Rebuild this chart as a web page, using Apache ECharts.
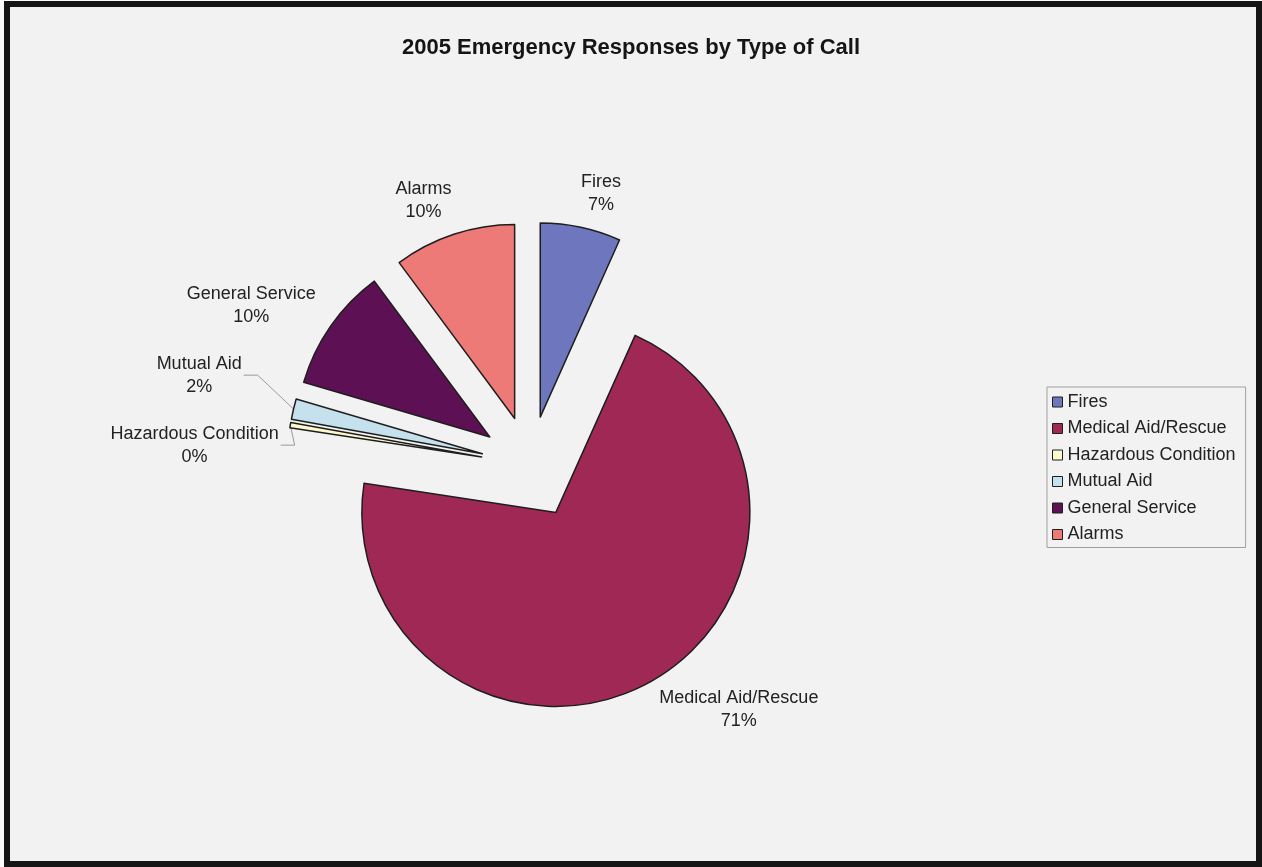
<!DOCTYPE html>
<html>
<head>
<meta charset="utf-8">
<title>2005 Emergency Responses by Type of Call</title>
<script src="https://cdn.jsdelivr.net/npm/echarts@6/dist/echarts.min.js"></script>
<style>
  html, body { margin: 0; padding: 0; background: #fbfbfb; }
  #frame {
    position: absolute; left: 4px; top: 1px; width: 1258px; height: 866px;
    box-sizing: border-box; border: 6px solid #151515; background: #f2f2f2;
  }
  #chart { position: absolute; left: 0; top: 0; width: 1262px; height: 867px; }
</style>
</head>
<body>
<div id="frame"></div>
<div id="chart"></div>
<script>
// share of calls (%), clockwise from 12 o'clock
const callTypes = ['Fires', 'Medical Aid/Rescue', 'Hazardous Condition', 'Mutual Aid', 'General Service', 'Alarms']
const callShares = [6.7, 70.7, 0.45, 1.7, 10.3, 10.15]
const sliceColors = ['#6e77bd', '#a02855', '#fcf9cf', '#c6e1ee', '#5d1054', '#ee7a78']
// how far each slice is pulled out of the pie (px)
const explodeBy = [49, 54, 49, 49, 49, 49]

const pieCenter = [530, 465]
const pieRadius = 194
const labelRx = 340
const labelRy = 278
const labelGap = 70
const labelClear = 8

// mid angle of every slice -> its pushed-out centre and a label spot on an ellipse
const total = callShares.reduce((a, b) => a + b, 0)
let acc = 0
const slices = callShares.map((v, i) => {
  const mid = (acc + v / 2) / total * Math.PI * 2
  acc += v
  const dx = Math.sin(mid)
  const dy = -Math.cos(mid)
  return {
    dx, dy,
    center: [pieCenter[0] + dx * explodeBy[i], pieCenter[1] + dy * explodeBy[i]],
    edge: [pieCenter[0] + dx * (explodeBy[i] + pieRadius), pieCenter[1] + dy * (explodeBy[i] + pieRadius)],
    x: pieCenter[0] + dx * labelRx,
    y: pieCenter[1] + dy * labelRy,
    moved: false
  }
})
// spread labels that crowd each other on one side
;[-1, 1].forEach(side => {
  const list = slices.filter(p => Math.sign(p.dx) === side).sort((a, b) => a.y - b.y)
  for (let k = 1; k < list.length; k++) {
    const a = list[k - 1]
    const b = list[k]
    const gap = b.y - a.y
    if (gap < labelGap) {
      const push = (labelGap - gap) / 2
      a.y -= push
      b.y += push
      a.moved = true
      b.moved = true
    }
  }
})

// slide a label sideways until its box stays clear of its own slice
function clearOfSlice(s, w, h) {
  let x = s.x
  const side = s.dx < 0 ? -1 : 1
  const dist = () => {
    const nx = Math.max(x - w / 2, Math.min(s.center[0], x + w / 2))
    const ny = Math.max(s.y - h / 2, Math.min(s.center[1], s.y + h / 2))
    return Math.hypot(nx - s.center[0], ny - s.center[1])
  }
  let n = 0
  while (dist() < pieRadius + labelClear && n < 400) {
    x += side
    n++
  }
  return x
}

const font = '"Liberation Sans", Arial, sans-serif'
const border = { borderColor: '#1e1e1e', borderWidth: 1.5 }

// one pie per slice: same data, only its own slice painted, centre pushed out
function sliceSeries(i) {
  const s = slices[i]
  return {
    type: 'pie',
    center: s.center,
    radius: pieRadius,
    startAngle: 90,
    clockwise: true,
    percentPrecision: 0,
    avoidLabelOverlap: false,
    silent: true,
    emphasis: { disabled: true },
    label: {
      show: true,
      position: 'outside',
      formatter: '{b}\n{d}%',
      fontFamily: font,
      fontSize: 18,
      lineHeight: 23,
      color: '#222'
    },
    labelLine: {
      show: s.moved,
      lineStyle: { color: '#9a9a9a', width: 1 }
    },
    labelLayout: params => {
      if (params.dataIndex !== i) return {}
      const w = params.labelRect.width
      const h = params.labelRect.height
      const x = clearOfSlice(s, w, h)
      const out = { x: x, y: s.y, align: 'center', verticalAlign: 'middle' }
      if (s.moved) {
        const side = s.dx < 0 ? 1 : -1
        out.labelLinePoints = [
          s.edge,
          [x + side * (w / 2 + 16), s.y],
          [x + side * (w / 2 + 2), s.y]
        ]
      }
      return out
    },
    data: callTypes.map((name, j) => j === i
      ? { name, value: callShares[j], itemStyle: Object.assign({ color: sliceColors[j] }, border) }
      : {
          name,
          value: callShares[j],
          itemStyle: { color: 'transparent', borderWidth: 0 },
          label: { show: false },
          labelLine: { show: false }
        })
  }
}

let myChart = echarts.init(document.querySelector('#chart'))
let option = {
  animation: false,
  backgroundColor: 'transparent',
  title: {
    text: '2005 Emergency Responses by Type of Call',
    left: 'center',
    top: 32,
    textStyle: {
      fontFamily: font,
      fontSize: 22,
      fontWeight: 'bold',
      color: '#151515'
    }
  },
  legend: {
    data: callTypes.map((name, i) => ({
      name,
      itemStyle: Object.assign({ color: sliceColors[i] }, border, { borderWidth: 1 })
    })),
    orient: 'vertical',
    left: 1047,
    top: 387,
    icon: 'rect',
    itemWidth: 10,
    itemHeight: 10,
    itemGap: 8.5,
    selectedMode: false,
    padding: [6, 10, 4, 5],
    borderColor: '#a0a0a0',
    borderWidth: 1,
    textStyle: {
      fontFamily: font,
      fontSize: 18,
      color: '#222'
    }
  },
  series: callTypes.map((name, i) => sliceSeries(i))
}
myChart.setOption(option)
</script>
</body>
</html>
